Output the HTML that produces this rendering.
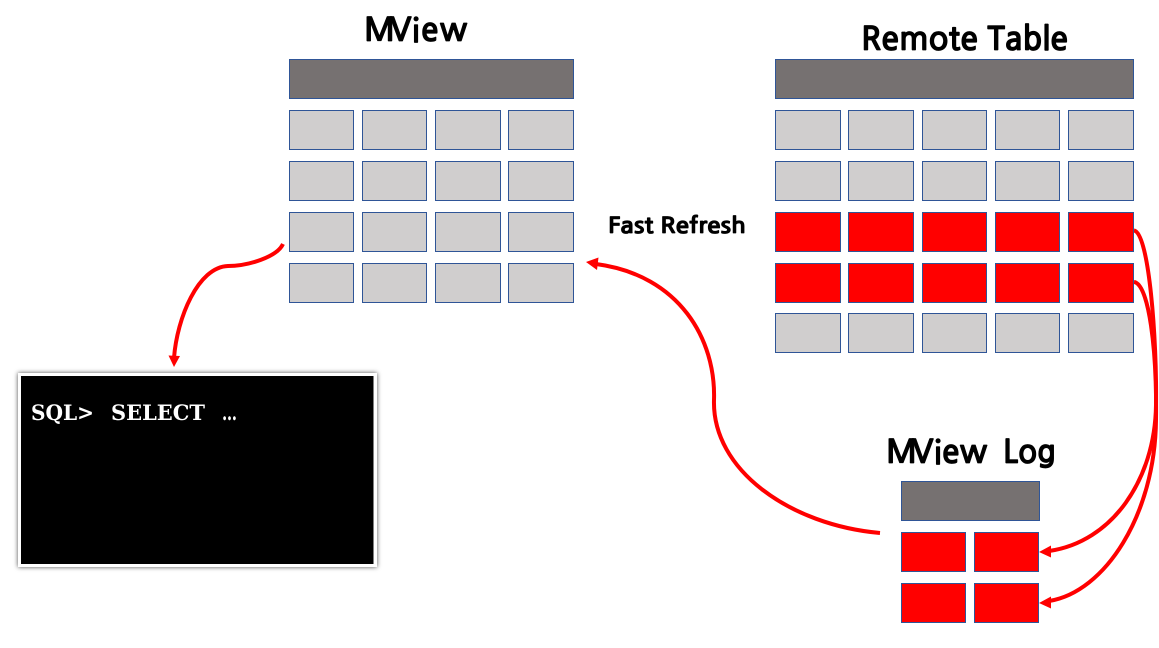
<!DOCTYPE html>
<html><head><meta charset="utf-8">
<style>
html,body{margin:0;padding:0;background:#fff;width:1159px;height:648px;overflow:hidden}
svg{display:block}
.h{fill:#767171;stroke:#2f5597;stroke-width:1}
.c{fill:#d0cece;stroke:#2f5597;stroke-width:1}
.r{fill:#ff0000;stroke:#2f5597;stroke-width:1}
.t{font-family:"NanumGothic","DejaVu Sans","Liberation Sans",sans-serif;font-weight:700;fill:#000;stroke:#000;stroke-width:.7}
.l{fill:none;stroke:#ff0000;stroke-width:4}
.q{font-family:'DejaVu Serif','Liberation Serif',serif;font-weight:700;font-size:21px;fill:#fff}
</style></head><body>
<svg width="1159" height="648" viewBox="0 0 1159 648" xmlns="http://www.w3.org/2000/svg">
<defs><filter id="s" x="-5%" y="-5%" width="110%" height="110%"><feDropShadow dx="0" dy="0" stdDeviation="2.500" flood-color="#000" flood-opacity=".7"/></filter></defs>
<rect width="1159" height="648" fill="#fff"/>

<text class="t" x="364 390 412 421 440" y="41" font-size="32">MView</text>
<text class="t" x="861" y="50" font-size="32" textLength="207" lengthAdjust="spacingAndGlyphs">Remote Table</text>
<text class="t" x="886 912 934 942 960" y="463" font-size="32">MView</text>
<text class="t" x="1003" y="463" font-size="32" textLength="53" lengthAdjust="spacingAndGlyphs">Log</text>
<text class="t" x="608" y="233" font-size="22" textLength="138" lengthAdjust="spacingAndGlyphs" style="stroke-width:.8">Fast Refresh</text>

<!-- MView -->
<rect class="h" x="289.5" y="59.5" width="284" height="39"/>
<rect class="c" x="289.5" y="110.5" width="64" height="39"/><rect class="c" x="362.5" y="110.5" width="64" height="39"/><rect class="c" x="435.5" y="110.5" width="65" height="39"/><rect class="c" x="508.5" y="110.5" width="65" height="39"/>
<rect class="c" x="289.5" y="161.5" width="64" height="39"/><rect class="c" x="362.5" y="161.5" width="64" height="39"/><rect class="c" x="435.5" y="161.5" width="65" height="39"/><rect class="c" x="508.5" y="161.5" width="65" height="39"/>
<rect class="c" x="289.5" y="212.5" width="64" height="39"/><rect class="c" x="362.5" y="212.5" width="64" height="39"/><rect class="c" x="435.5" y="212.5" width="65" height="39"/><rect class="c" x="508.5" y="212.5" width="65" height="39"/>
<rect class="c" x="289.5" y="263.5" width="64" height="39"/><rect class="c" x="362.5" y="263.5" width="64" height="39"/><rect class="c" x="435.5" y="263.5" width="65" height="39"/><rect class="c" x="508.5" y="263.5" width="65" height="39"/>

<!-- Remote Table -->
<rect class="h" x="775.5" y="59.5" width="358" height="39"/>
<rect class="c" x="775.5" y="110.5" width="65" height="39"/><rect class="c" x="848.5" y="110.5" width="65" height="39"/><rect class="c" x="922.5" y="110.5" width="64" height="39"/><rect class="c" x="995.5" y="110.5" width="64" height="39"/><rect class="c" x="1068.5" y="110.5" width="65" height="39"/>
<rect class="c" x="775.5" y="161.5" width="65" height="39"/><rect class="c" x="848.5" y="161.5" width="65" height="39"/><rect class="c" x="922.5" y="161.5" width="64" height="39"/><rect class="c" x="995.5" y="161.5" width="64" height="39"/><rect class="c" x="1068.5" y="161.5" width="65" height="39"/>
<rect class="r" x="775.5" y="212.5" width="65" height="39"/><rect class="r" x="848.5" y="212.5" width="65" height="39"/><rect class="r" x="922.5" y="212.5" width="64" height="39"/><rect class="r" x="995.5" y="212.5" width="64" height="39"/><rect class="r" x="1068.5" y="212.5" width="65" height="39"/>
<rect class="r" x="775.5" y="263.5" width="65" height="39"/><rect class="r" x="848.5" y="263.5" width="65" height="39"/><rect class="r" x="922.5" y="263.5" width="64" height="39"/><rect class="r" x="995.5" y="263.5" width="64" height="39"/><rect class="r" x="1068.5" y="263.5" width="65" height="39"/>
<rect class="c" x="775.5" y="313.5" width="65" height="39"/><rect class="c" x="848.5" y="313.5" width="65" height="39"/><rect class="c" x="922.5" y="313.5" width="64" height="39"/><rect class="c" x="995.5" y="313.5" width="64" height="39"/><rect class="c" x="1068.5" y="313.5" width="65" height="39"/>

<!-- MView Log -->
<rect class="h" x="901.5" y="481.5" width="138" height="39"/>
<rect class="r" x="901.5" y="532.5" width="64" height="39"/><rect class="r" x="974.5" y="532.5" width="64" height="39"/>
<rect class="r" x="901.5" y="583.5" width="64" height="39"/><rect class="r" x="974.5" y="583.5" width="64" height="39"/>

<!-- Terminal -->
<rect x="18" y="373" width="359" height="194" fill="#fff" filter="url(#s)"/>
<rect x="21" y="376" width="352.500" height="188" fill="#000"/>
<text class="q" x="31" y="420" textLength="63" lengthAdjust="spacingAndGlyphs">SQL&gt;</text>
<text class="q" x="111" y="420" textLength="94" lengthAdjust="spacingAndGlyphs">SELECT</text>
<text class="q" x="222" y="420" textLength="15" lengthAdjust="spacingAndGlyphs">…</text>

<!-- Connectors -->
<path class="l" d="M283 244 C277 257 248 266 228 266 C198 267 177 318 174 358"/>
<path fill="#ff0000" d="M174 367 L168.500 355.500 L180 356 Z"/>

<path class="l" d="M880 533 C790 525 712 470 714 400 C716 340 680 275 596 264"/>
<path fill="#ff0000" d="M586 262 L598.500 257.500 L597 270 Z"/>

<path class="l" d="M1134 230.500 C1149 232 1157 340 1156 405 C1155 480 1112 542 1049 551"/>
<path fill="#ff0000" d="M1039 552 L1051 545.500 L1051 557.500 Z"/>

<path class="l" d="M1134 282 C1149 284 1157 350 1156 420 C1155 515 1105 592 1049 601"/>
<path fill="#ff0000" d="M1039 603 L1051 596.500 L1051 608.500 Z"/>
</svg>
</body></html>
